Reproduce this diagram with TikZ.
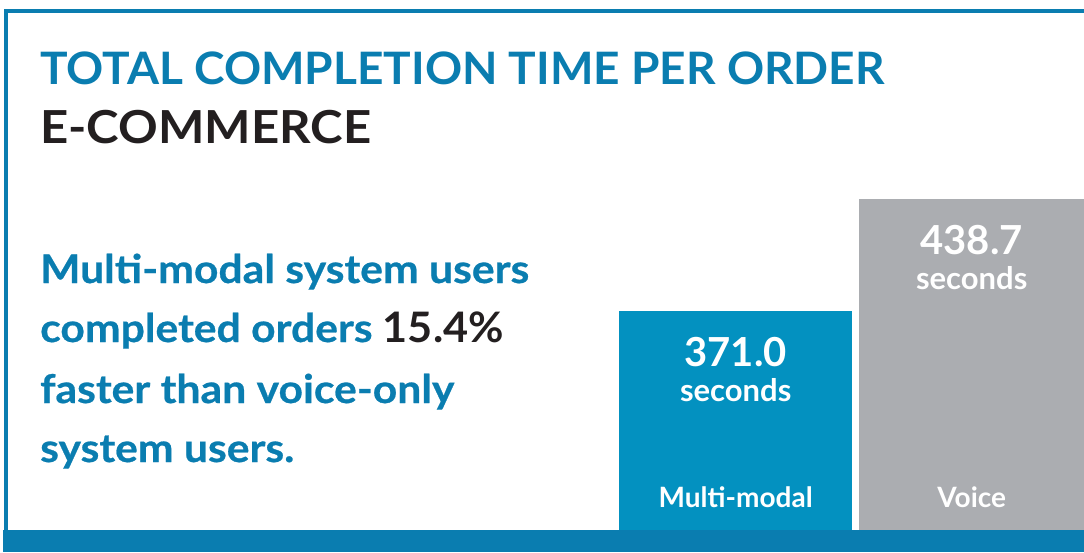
\documentclass[tikz,border=0pt]{standalone}
\usepackage{fontspec}
\setmainfont{Lato}
\newfontfamily\headfont{Lato}[FakeStretch=1.03]
\newfontfamily\sectorfont{Lato}[FakeStretch=1.08]
\newfontfamily\bodyfont{Lato}[FakeStretch=1.08, FakeBold=0.6]
\usetikzlibrary{positioning}

\definecolor{headblue}{HTML}{0A7DB0}
\definecolor{barblue}{HTML}{0391C0}
\definecolor{bargray}{HTML}{ABADB1}
\definecolor{inkblack}{HTML}{231F20}

\newcommand\headstyle{\headfont\fontsize{44.7}{50}\selectfont\bfseries}
\newcommand\sectorstyle{\sectorfont\fontsize{45.5}{50}\selectfont\bfseries}
\newcommand\bodystyle{\bodyfont\fontsize{39.5}{45}\selectfont\bfseries}
\newcommand\bignumstyle{\headfont\fontsize{42}{50}\selectfont\bfseries}
\newcommand\valuestyle{\fontsize{40}{46}\selectfont\bfseries}
\newcommand\unitstyle{\fontsize{31}{36}\selectfont\bfseries}
\newcommand\catstyle{\fontsize{28}{32}\selectfont\bfseries}

\tikzset{
  txt/.style={inner sep=0pt, anchor=base west},
  lbl/.style={inner sep=0pt, anchor=base, text=white},
  bar/.style={inner sep=0pt, anchor=south west, draw=none}
}

\begin{document}
\begin{tikzpicture}[x=1pt, y=-1pt]
    \useasboundingbox (0,0) rectangle (1084,552);
    \fill[white] (0,0) rectangle (1084,552);
    % frame
    \fill[headblue] (4,9) rectangle (1084,13);
    \fill[headblue] (4,9) rectangle (8,530);
    % headings
    \node[txt, text=headblue] (title) at (40,84) {\headstyle TOTAL COMPLETION TIME PER ORDER};
    \node[txt, text=inkblack] (sector) at (40,143) {\sectorstyle E-COMMERCE};
    % statement
    \node[txt, text=headblue] (line1) at (40,283) {\bodystyle Multi-modal system users};
    \node[txt, text=headblue] (line2) at (40,342) {\bodystyle completed orders \textcolor{inkblack}{\bignumstyle 15.4\%}};
    \node[txt, text=headblue] (line3) at (40,403) {\bodystyle faster than voice-only};
    \node[txt, text=headblue] (line4) at (40,462) {\bodystyle system users.};
    % bars
    \node[bar, fill=barblue, minimum width=233pt, minimum height=219pt] (mmbar) at (619,530) {};
    \node[bar, fill=bargray, minimum width=225pt, minimum height=331pt] (vcbar) at (859,530) {};
    \node[lbl] (mmval) at ([yshift=-56pt]mmbar.north) {\valuestyle 371.0};
    \node[lbl] (mmunit) at ([yshift=-91pt]mmbar.north) {\unitstyle seconds};
    \node[lbl] (mmcat) at ([yshift=23pt]mmbar.south) {\catstyle Multi-modal};
    \node[lbl] (vcval) at ([yshift=-56pt]vcbar.north) {\valuestyle 438.7};
    \node[lbl] (vcunit) at ([yshift=-91pt]vcbar.north) {\unitstyle seconds};
    \node[lbl] (vccat) at ([yshift=23pt]vcbar.south) {\catstyle Voice};
    % base strip
    \fill[headblue] (3,530) rectangle (1084,552);
\end{tikzpicture}
\end{document}
